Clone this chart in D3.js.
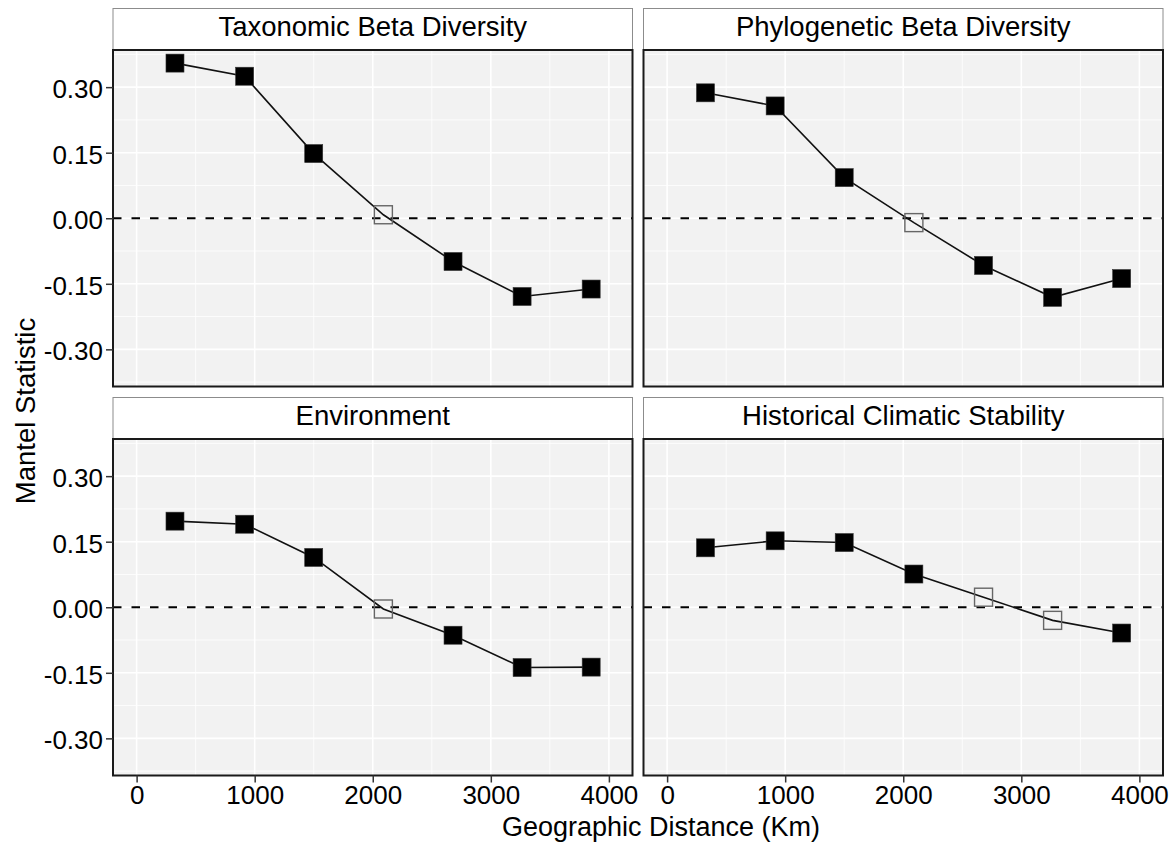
<!DOCTYPE html>
<html>
<head>
<meta charset="utf-8">
<script src="https://d3js.org/d3.v7.min.js"></script>
<style>
  body { margin: 0; background: #ffffff; }
  text { font-family: "Liberation Sans", Arial, sans-serif; fill: #000000; }
</style>
</head>
<body>
<div id="vis"></div>
<script>
var w = 1176;
var h = 848;

// data
var distance = [325, 915, 1500, 2090, 2680, 3265, 3850];
var panelNames = ['Taxonomic Beta Diversity', 'Phylogenetic Beta Diversity', 'Environment', 'Historical Climatic Stability'];
var taxonomic = [0.355, 0.325, 0.148, 0.008, -0.099, -0.179, -0.162];
var phylogenetic = [0.287, 0.257, 0.093, -0.010, -0.108, -0.181, -0.138];
var environment = [0.197, 0.190, 0.114, -0.004, -0.064, -0.138, -0.137];
var climatic = [0.136, 0.152, 0.148, 0.076, 0.023, -0.030, -0.059];
// 1 = significant (filled square), 0 = not significant (open square)
var taxonomicSig = [1, 1, 1, 0, 1, 1, 1];
var phylogeneticSig = [1, 1, 1, 0, 1, 1, 1];
var environmentSig = [1, 1, 1, 0, 1, 1, 1];
var climaticSig = [1, 1, 1, 1, 0, 0, 1];
var xTicks = [0, 1000, 2000, 3000, 4000];
var xMinor = [500, 1500, 2500, 3500];
var yTicks = [-0.30, -0.15, 0, 0.15, 0.30];
var yMinor = [-0.375, -0.225, -0.075, 0.075, 0.225, 0.375];

var values = [taxonomic, phylogenetic, environment, climatic];
var sigs = [taxonomicSig, phylogeneticSig, environmentSig, climaticSig];

// layout
var left = 113, right = 1163, gap = 11;
var top0 = 8.5, stripH = 41.5, panelH = 336.5;
var panelW = (right - left - gap) / 2;

var svg = d3.select('#vis')
  .append('svg')
    .attr('width', w)
    .attr('height', h);

var x = d3.scaleLinear()
  .domain([-200, 4200])
  .range([0, panelW]);

var y = d3.scaleLinear()
  .domain([-0.385, 0.385])
  .range([panelH, 0]);

var line = d3.line()
  .x(function(d) { return x(d.x); })
  .y(function(d) { return y(d.y); });

panelNames.forEach(function(name, i) {
  var col = i % 2;
  var row = Math.floor(i / 2);
  var px = left + col * (panelW + gap);
  var sy = top0 + row * (stripH + panelH + gap);
  var py = sy + stripH;

  // strip
  svg.append('rect')
    .attr('x', px)
    .attr('y', sy)
    .attr('width', panelW)
    .attr('height', stripH)
    .style('fill', '#ffffff')
    .style('stroke', '#8c8c8c')
    .style('stroke-width', 1);

  svg.append('text')
    .attr('x', px + panelW / 2)
    .attr('y', sy + 27.5)
    .attr('text-anchor', 'middle')
    .style('font-size', '27.5px')
    .text(name);

  var g = svg.append('g')
    .attr('transform', 'translate(' + px + ',' + py + ')');

  g.append('rect')
    .attr('width', panelW)
    .attr('height', panelH)
    .style('fill', '#f2f2f2');

  // minor grid
  g.selectAll('.xminor')
    .data(xMinor)
    .enter()
    .append('line')
      .attr('x1', function(d) { return x(d); })
      .attr('x2', function(d) { return x(d); })
      .attr('y1', 0)
      .attr('y2', panelH)
      .style('stroke', '#ffffff')
      .style('stroke-width', 0.8);

  g.selectAll('.yminor')
    .data(yMinor)
    .enter()
    .append('line')
      .attr('x1', 0)
      .attr('x2', panelW)
      .attr('y1', function(d) { return y(d); })
      .attr('y2', function(d) { return y(d); })
      .style('stroke', '#ffffff')
      .style('stroke-width', 0.8);

  // major grid
  g.selectAll('.xmajor')
    .data(xTicks)
    .enter()
    .append('line')
      .attr('x1', function(d) { return x(d); })
      .attr('x2', function(d) { return x(d); })
      .attr('y1', 0)
      .attr('y2', panelH)
      .style('stroke', '#ffffff')
      .style('stroke-width', 1.6);

  g.selectAll('.ymajor')
    .data(yTicks)
    .enter()
    .append('line')
      .attr('x1', 0)
      .attr('x2', panelW)
      .attr('y1', function(d) { return y(d); })
      .attr('y2', function(d) { return y(d); })
      .style('stroke', '#ffffff')
      .style('stroke-width', 1.6);

  // zero reference
  g.append('line')
    .attr('x1', 0)
    .attr('x2', panelW)
    .attr('y1', y(0))
    .attr('y2', y(0))
    .style('stroke', '#000000')
    .style('stroke-width', 2.2)
    .style('stroke-dasharray', '8.5,10');

  var pts = distance.map(function(d, j) {
    return { x: d, y: values[i][j], sig: sigs[i][j] };
  });

  g.append('path')
    .datum(pts)
    .attr('d', line)
    .style('fill', 'none')
    .style('stroke', '#111111')
    .style('stroke-width', 1.6);

  var s = 18;
  g.selectAll('.pt')
    .data(pts)
    .enter()
    .append('rect')
      .attr('x', function(d) { return x(d.x) - s / 2; })
      .attr('y', function(d) { return y(d.y) - s / 2; })
      .attr('width', s)
      .attr('height', s)
      .style('fill', function(d) { return d.sig ? '#000000' : 'none'; })
      .style('stroke', function(d) { return d.sig ? '#333333' : '#666666'; })
      .style('stroke-width', function(d) { return d.sig ? 0.6 : 1.4; });

  // panel border
  g.append('rect')
    .attr('width', panelW)
    .attr('height', panelH)
    .style('fill', 'none')
    .style('stroke', '#1a1a1a')
    .style('stroke-width', 2);

  // axes only on outer panels
  if (col === 0) {
    var ya = g.append('g')
      .call(d3.axisLeft(y)
        .tickValues(yTicks)
        .tickSize(7)
        .tickPadding(3)
        .tickFormat(function(d) { return d.toFixed(2); }));
    ya.select('.domain').remove();
    ya.selectAll('line').style('stroke', '#333333').style('stroke-width', 1.5);
    ya.selectAll('text')
      .attr('dy', '0.4em')
      .style('font-size', '26px')
      .style('font-family', '"Liberation Sans", Arial, sans-serif')
      .style('fill', '#000000');
  }
  if (row === 1) {
    var xa = g.append('g')
      .attr('transform', 'translate(0,' + panelH + ')')
      .call(d3.axisBottom(x)
        .tickValues(xTicks)
        .tickSize(7)
        .tickPadding(3)
        .tickFormat(d3.format('d')));
    xa.select('.domain').remove();
    xa.selectAll('line').style('stroke', '#333333').style('stroke-width', 1.5);
    xa.selectAll('text')
      .style('font-size', '26px')
      .style('font-family', '"Liberation Sans", Arial, sans-serif')
      .style('fill', '#000000');
  }
});

// axis titles
svg.append('text')
  .attr('x', 661)
  .attr('y', 836)
  .attr('text-anchor', 'middle')
  .style('font-size', '27px')
  .text('Geographic Distance (Km)');

svg.append('text')
  .attr('transform', 'translate(35,411) rotate(-90)')
  .attr('text-anchor', 'middle')
  .style('font-size', '27.5px')
  .text('Mantel Statistic');
</script>
</body>
</html>
